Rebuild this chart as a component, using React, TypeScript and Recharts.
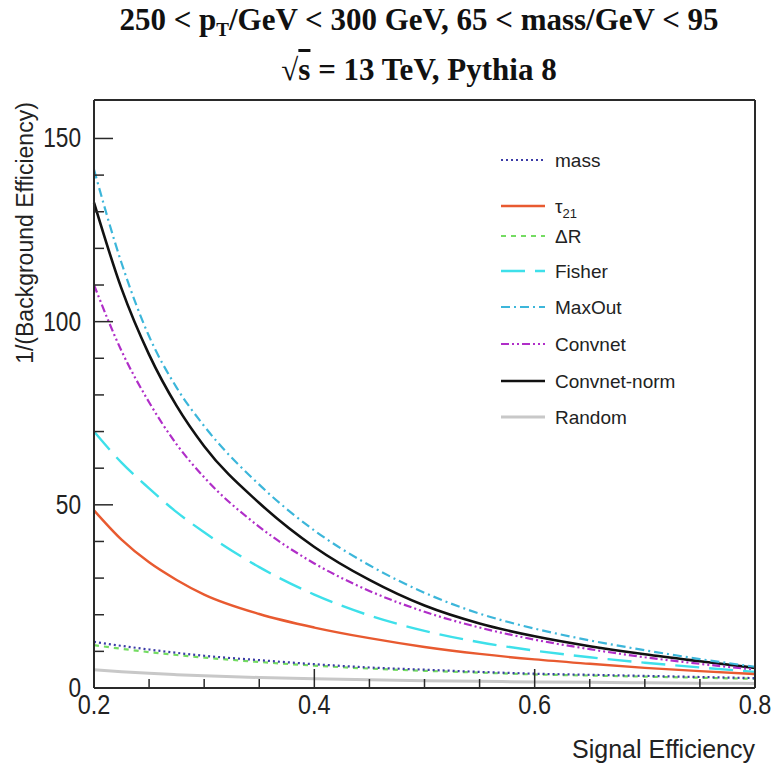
import React from "react";
import { LineChart, Line, XAxis, YAxis } from "recharts";

// signal efficiency points (x)
const sigEff = [0.2, 0.225, 0.25, 0.275, 0.3, 0.35, 0.4, 0.45, 0.5, 0.55, 0.6, 0.65, 0.7, 0.75, 0.8];

// 1/(background efficiency)
const massRej = [12.6, 11.5, 10.5, 9.6, 8.8, 7.6, 6.5, 5.6, 5.0, 4.4, 3.9, 3.6, 3.3, 3.0, 2.7];
const tau21Rej = [48.5, 40.5, 34.3, 29.5, 25.5, 20.2, 16.5, 13.6, 11.2, 9.3, 7.8, 6.6, 5.5, 4.6, 3.8];
const deltaRRej = [11.7, 10.7, 9.8, 9.0, 8.3, 7.1, 6.1, 5.3, 4.7, 4.2, 3.7, 3.4, 3.1, 2.8, 2.5];
const fisherRej = [70, 61.5, 54.5, 48, 42.5, 33, 25.5, 19.8, 15.6, 12.5, 10.2, 8.4, 6.9, 5.6, 4.4];
const maxoutRej = [141.5, 116, 96, 82, 71.5, 55.5, 43, 33.5, 26, 20.3, 16.2, 13, 10.3, 7.9, 5.8];
const convnetRej = [110, 92, 78, 66.5, 57.5, 44, 34, 26.5, 20.8, 16.5, 13.2, 10.6, 8.4, 6.6, 5.0];
const convnetNormRej = [132.5, 109, 91, 77, 66, 50.5, 38.5, 29.5, 22.5, 17.6, 14.1, 11.4, 9.2, 7.3, 5.5];
const randomRej = [5.0, 4.44, 4.0, 3.64, 3.33, 2.86, 2.5, 2.22, 2.0, 1.82, 1.67, 1.54, 1.43, 1.33, 1.25];

const xTicks = [0.2, 0.25, 0.3, 0.35, 0.4, 0.45, 0.5, 0.55, 0.6, 0.65, 0.7, 0.75, 0.8];
const xMajor = [0.2, 0.4, 0.6, 0.8];
const yTicks = [0, 10, 20, 30, 40, 50, 60, 70, 80, 90, 100, 110, 120, 130, 140, 150];
const yMajor = [0, 50, 100, 150];
const Y_MAX = 160.5;

const series = [
  { key: "mass", label: "mass", color: "#3b3ba6", dash: "2 3", width: 2.2 },
  { key: "tau21", label: "tau21", color: "#e85a30", dash: undefined, width: 2.4 },
  { key: "deltaR", label: "\u0394R", color: "#74dc62", dash: "5 5", width: 2.2 },
  { key: "fisher", label: "Fisher", color: "#3ee0ea", dash: "24 10", width: 2.4 },
  { key: "maxout", label: "MaxOut", color: "#3cb6da", dash: "9 4 2 4", width: 2.2 },
  { key: "convnet", label: "Convnet", color: "#b02ec8", dash: "8 3 2 3 2 3", width: 2.2 },
  { key: "convnetNorm", label: "Convnet-norm", color: "#111111", dash: undefined, width: 2.6 },
  { key: "random", label: "Random", color: "#c8c8c8", dash: undefined, width: 3 },
];

const data = sigEff.map((eff, i) => ({
  eff,
  mass: massRej[i],
  tau21: tau21Rej[i],
  deltaR: deltaRRej[i],
  fisher: fisherRej[i],
  maxout: maxoutRej[i],
  convnet: convnetRej[i],
  convnetNorm: convnetNormRej[i],
  random: randomRej[i],
}));

const FONT = "'Liberation Sans', Arial, Helvetica, sans-serif";
const AXIS = "#2a2a2a";

// ROOT-style ticks: drawn inward, labels a bit condensed
const XTick = (props: any) => {
  const { x, y, payload } = props;
  const major = xMajor.includes(payload.value);
  return (
    <g>
      <line x1={x} x2={x} y1={y} y2={y - (major ? 19 : 9)} stroke={AXIS} strokeWidth={1.5} />
      {major && (
        <text
          transform={`translate(${x},${y + 26}) scale(0.84,1)`}
          textAnchor="middle"
          fontSize={28}
          fontFamily={FONT}
          fill="#222"
        >
          {payload.value.toFixed(1)}
        </text>
      )}
    </g>
  );
};

const YTick = (props: any) => {
  const { x, y, payload } = props;
  const major = yMajor.includes(payload.value);
  return (
    <g>
      <line x1={x} x2={x + (major ? 19 : 10)} y1={y} y2={y} stroke={AXIS} strokeWidth={1.5} />
      {major && (
        <text
          transform={`translate(${x - 13},${y + 9}) scale(0.84,1)`}
          textAnchor="end"
          fontSize={27}
          fontFamily={FONT}
          fill="#222"
        >
          {payload.value}
        </text>
      )}
    </g>
  );
};

const legendRows = [160, 206, 236, 271, 307, 344, 381, 417];

const Legend = () => (
  <svg width={260} height={300} style={{ position: "absolute", left: 490, top: 140 }}>
    {series.map((s, i) => {
      const y = legendRows[i] - 140;
      return (
        <g key={s.key}>
          <line x1={11} x2={55} y1={y} y2={y} stroke={s.color} strokeWidth={s.width} strokeDasharray={s.dash} />
          <text x={65} y={y + 7} fontSize={19} fontFamily={FONT} fill="#222">
            {s.key === "tau21" ? (
              <>
                {"\u03c4"}
                <tspan fontSize={13} dy={5}>21</tspan>
              </>
            ) : (
              s.label
            )}
          </text>
        </g>
      );
    })}
  </svg>
);

export default function App() {
  return (
    <div style={{ position: "absolute", left: 0, top: 0, width: 772, height: 772, background: "#fff" }}>
      <div
        style={{
          position: "absolute",
          left: 0,
          width: 838,
          top: 0,
          textAlign: "center",
          fontFamily: "'Liberation Serif', 'Times New Roman', serif",
          fontWeight: "bold",
          fontSize: 31,
          lineHeight: "40px",
          color: "#111",
        }}
      >
        <div>
          250 &lt; p<sub style={{ fontSize: 19, verticalAlign: "-6px" }}>T</sub>/GeV &lt; 300 GeV, 65 &lt; mass/GeV &lt; 95
        </div>
        <div>
          {"\u221a"}
          <span style={{ textDecoration: "overline" }}>s</span> = 13 TeV, Pythia 8
        </div>
      </div>

      <LineChart width={772} height={772} data={data} margin={{ top: 99, right: 16, bottom: 83, left: 93 }}>
        <XAxis
          dataKey="eff"
          type="number"
          domain={[0.2, 0.8]}
          ticks={xTicks}
          interval={0}
          height={1}
          tickSize={0}
          tickMargin={0}
          tick={<XTick />}
          tickLine={false}
          axisLine={{ stroke: AXIS, strokeWidth: 2 }}
        />
        <XAxis
          xAxisId="top"
          orientation="top"
          type="number"
          domain={[0.2, 0.8]}
          height={1}
          tick={false}
          tickLine={false}
          axisLine={{ stroke: AXIS, strokeWidth: 2 }}
        />
        <YAxis
          type="number"
          domain={[0, Y_MAX]}
          ticks={yTicks}
          interval={0}
          width={1}
          tickSize={0}
          tickMargin={0}
          tick={<YTick />}
          tickLine={false}
          axisLine={{ stroke: AXIS, strokeWidth: 2 }}
          allowDataOverflow
        />
        <YAxis
          yAxisId="right"
          orientation="right"
          type="number"
          domain={[0, Y_MAX]}
          width={1}
          tick={false}
          tickLine={false}
          axisLine={{ stroke: AXIS, strokeWidth: 2 }}
        />
        {series
          .slice()
          .reverse()
          .map((s) => (
            <Line
              key={s.key}
              dataKey={s.key}
              type="monotone"
              stroke={s.color}
              strokeWidth={s.width}
              strokeDasharray={s.dash}
              dot={false}
              activeDot={false}
              isAnimationActive={false}
            />
          ))}
      </LineChart>

      <Legend />

      <div
        style={{
          position: "absolute",
          left: 25,
          top: 233,
          transform: "translate(-50%, -50%) rotate(-90deg)",
          whiteSpace: "nowrap",
          fontFamily: FONT,
          fontSize: 23,
          color: "#222",
        }}
      >
        1/(Background Efficiency)
      </div>
      <div
        style={{
          position: "absolute",
          right: 17,
          top: 735,
          fontFamily: FONT,
          fontSize: 25,
          color: "#222",
        }}
      >
        Signal Efficiency
      </div>
    </div>
  );
}
